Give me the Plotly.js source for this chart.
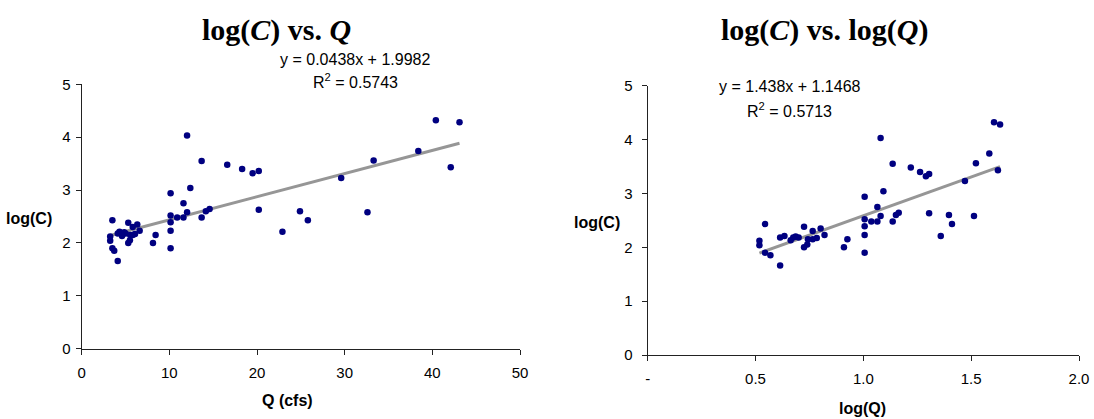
<!DOCTYPE html>
<html>
<head>
<meta charset="utf-8">
<script src="https://cdn.plot.ly/plotly-3.0.1.min.js"></script>
<style>html,body{margin:0;padding:0;background:#fff;}#chart{width:1094px;height:419px;}</style>
</head>
<body>
<div id="chart"></div>
<script>
// ---- data ----
const logC = [2.12,2.04,2.43,1.90,1.85,1.66,2.18,2.21,2.13,2.18,
              2.20,2.18,2.38,2.00,2.05,2.15,2.30,2.15,2.17,2.35,
              2.23,2.00,2.15,2.94,2.52,2.39,2.23,1.90,2.48,2.75,
              2.48,4.03,2.58,3.04,3.55,2.48,2.60,2.64,3.48,3.40,
              3.32,3.36,2.63,2.21,2.60,2.43,3.23,2.58,3.56,3.74,
              4.32,3.43,4.28];
const Q = [3.25,3.25,3.50,3.50,3.71,4.11,4.11,4.31,4.60,4.73,
           4.85,5.01,5.31,5.31,5.50,5.53,5.82,5.82,6.08,6.34,
           6.61,8.13,8.43,10.14,10.14,10.14,10.14,10.14,10.89,11.61,
           11.61,12.02,12.02,12.39,13.68,13.68,14.16,14.59,16.6,18.3,
           19.5,20.2,20.2,22.9,24.9,25.8,29.6,32.6,33.3,38.4,
           40.4,42.1,43.1];
const logQ = [0.518,0.518,0.544,0.544,0.569,0.614,0.614,0.634,0.663,0.675,
              0.686,0.700,0.725,0.725,0.740,0.743,0.765,0.765,0.784,0.802,
              0.820,0.910,0.926,1.006,1.006,1.006,1.006,1.006,1.037,1.065,
              1.065,1.080,1.080,1.093,1.136,1.136,1.151,1.164,1.220,1.263,
              1.290,1.305,1.305,1.359,1.397,1.411,1.471,1.513,1.522,1.584,
              1.606,1.624,1.634];
// trendline coefficients (as printed on the chart)
const fit1 = {slope: 0.0438, intercept: 1.9982, label: "y = 0.0438x + 1.9982", r2: "0.5743"};
const fit2 = {slope: 1.438, intercept: 1.1468, label: "y = 1.438x + 1.1468", r2: "0.5713"};
const xTickVals2 = [0, 0.5, 1.0, 1.5, 2.0];
const xTickText2 = ["-", "0.5", "1.0", "1.5", "2.0"];

// ---- helpers ----
const W = 1094, H = 419;
const px = x => x / W, py = y => 1 - y / H;
function lineOf(xs, f) {
  const lo = Math.min(...xs), hi = Math.max(...xs);
  return {x: [lo, hi], y: [f.slope * lo + f.intercept, f.slope * hi + f.intercept]};
}
const l1 = lineOf(Q, fit1), l2 = lineOf(logQ, fit2);

const markerStyle = {color: '#000080', size: 6.5};
const lineStyle = {color: '#969696', width: 3};

const traces = [
  {x: l1.x, y: l1.y, xaxis: 'x', yaxis: 'y', mode: 'lines', line: lineStyle, hoverinfo: 'skip'},
  {x: Q, y: logC, xaxis: 'x', yaxis: 'y', mode: 'markers', marker: markerStyle},
  {x: l2.x, y: l2.y, xaxis: 'x2', yaxis: 'y2', mode: 'lines', line: lineStyle, hoverinfo: 'skip'},
  {x: logQ, y: logC, xaxis: 'x2', yaxis: 'y2', mode: 'markers', marker: markerStyle}
];

const tickFont = {family: 'Arial, Liberation Sans, sans-serif', size: 15, color: '#000'};
const axBase = {
  showline: true, linecolor: '#222', linewidth: 1, ticks: 'outside', ticklen: 5,
  tickcolor: '#222', tickwidth: 1, showgrid: false, zeroline: false, tickfont: tickFont,
  fixedrange: true
};

const layout = {
  width: W, height: H, showlegend: false,
  margin: {l: 0, r: 0, t: 0, b: 0},
  paper_bgcolor: '#fff', plot_bgcolor: '#fff',
  xaxis: Object.assign({}, axBase, {domain: [px(81.7), px(520)], range: [0, 50], dtick: 10, tick0: 0,
          anchor: 'y', ticklabelstandoff: 5}),
  yaxis: Object.assign({}, axBase, {domain: [py(348.7), py(84.3)], range: [0, 5], dtick: 1, tick0: 0,
          anchor: 'x', ticklabelstandoff: 2}),
  xaxis2: Object.assign({}, axBase, {domain: [px(647.7), px(1079)], range: [0, 2], tickmode: 'array',
          tickvals: xTickVals2, ticktext: xTickText2, anchor: 'y2', ticklabelstandoff: 5}),
  yaxis2: Object.assign({}, axBase, {domain: [py(355), py(85.7)], range: [0, 5], dtick: 1, tick0: 0,
          anchor: 'x2', ticklabelstandoff: 6}),
  annotations: []
};

function ann(text, x, y, font) {
  layout.annotations.push({text: text, x: px(x), y: py(y), xref: 'paper', yref: 'paper',
    xanchor: 'center', yanchor: 'middle', showarrow: false, font: font});
}
const titleFont = {family: 'Liberation Serif, Times New Roman, serif', size: 30, color: '#000'};
const eqFont = {family: 'Arial, Liberation Sans, sans-serif', size: 16, color: '#000'};
const axTitleFont = {family: 'Arial, Liberation Sans, sans-serif', size: 16, color: '#000'};

ann('<b>log(<i>C</i>) vs. <i>Q</i></b>', 276, 30, titleFont);
ann('<b>log(<i>C</i>) vs. log(<i>Q</i>)</b>', 825, 30, titleFont);
ann(fit1.label, 355, 60, eqFont);
ann('R<sup>2</sup> = ' + fit1.r2, 355, 81, eqFont);
ann(fit2.label, 790, 87, eqFont);
ann('R<sup>2</sup> = ' + fit2.r2, 789.5, 110, eqFont);
ann('<b>log(C)</b>', 28.5, 218, axTitleFont);
ann('<b>log(C)</b>', 597, 222, axTitleFont);
ann('<b>Q (cfs)</b>', 287, 400, axTitleFont);
ann('<b>log(Q)</b>', 862, 408, axTitleFont);

Plotly.newPlot('chart', traces, layout, {displayModeBar: false, staticPlot: true});
</script>
</body>
</html>
